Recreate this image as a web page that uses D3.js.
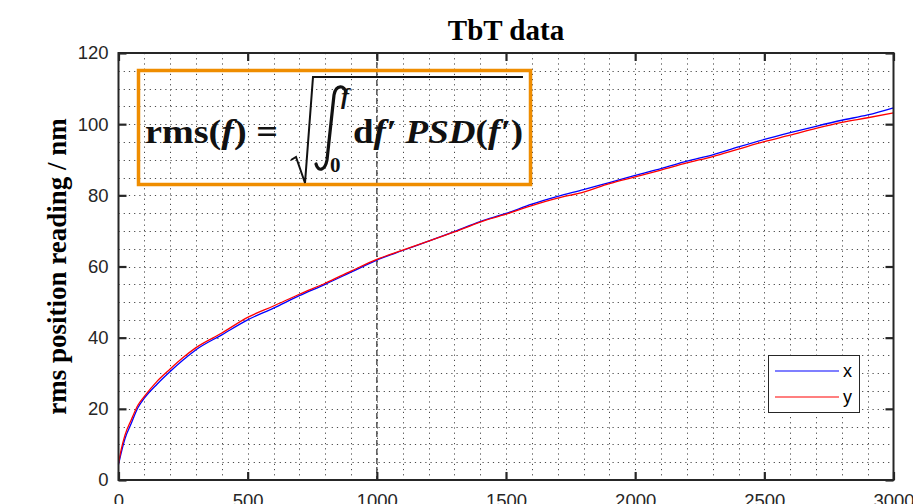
<html lang="en">
<head>
<script src="https://d3js.org/d3.v7.min.js" charset="utf-8"></script>
<style>
  body { margin: 0; background: #fff; }
  .tick text { font-family: 'Liberation Sans', Arial, sans-serif; font-size: 18.5px; fill: #262626; }
</style>
</head>
<body>
<script>
// rms of the position reading, integrated up to f (Hz)
var freq = [0, 10, 25, 50, 75, 100, 150, 200, 250, 300, 400, 500, 600, 700, 800, 900, 1000,
            1100, 1200, 1300, 1400, 1500, 1600, 1700, 1800, 1900, 2000, 2100, 2200, 2300,
            2400, 2500, 2600, 2700, 2800, 2900, 3000];
var rmsX = [4.3, 7.5, 11.6, 16.0, 20.3, 23.0, 27.0, 30.5, 33.7, 36.6, 40.8, 45.0, 48.3, 51.8, 55.0, 58.4, 61.8,
            64.5, 67.1, 69.8, 72.6, 74.9, 77.5, 79.7, 81.6, 83.6, 85.6, 87.5, 89.6, 91.4,
            93.6, 95.7, 97.6, 99.4, 101.1, 102.6, 104.6];
var rmsY = [4.6, 8.4, 12.6, 17.0, 21.0, 23.5, 27.8, 31.2, 34.4, 37.2, 41.3, 45.7, 48.9, 52.2, 55.3, 58.7, 62.0,
            64.6, 67.1, 69.7, 72.5, 74.7, 77.1, 79.2, 80.9, 83.3, 85.2, 87.1, 89.1, 90.9,
            93.0, 95.1, 96.9, 98.8, 100.5, 101.8, 103.2];
var seriesNames = ["x", "y"];
var seriesColors = ["#0000ff", "#ff0000"];
var xTicks = [0, 500, 1000, 1500, 2000, 2500, 3000];
var yTicks = [0, 20, 40, 60, 80, 100, 120];
var markerFreq = [1000];

var width = 913, height = 504;
var svg = d3.select("body").append("svg")
    .attr("width", width).attr("height", height);

var x = d3.scaleLinear().domain([0, 3000]).range([118.5, 893.5]);
var y = d3.scaleLinear().domain([0, 120]).range([480, 53]);

// minor grid (dotted)
var grid = svg.append("g").attr("stroke", "#4a4a4a").attr("stroke-width", 1)
    .attr("stroke-dasharray", "1.2,4");
grid.selectAll(".gx").data(x.ticks(30).filter(function(d) { return d > 0 && d < 3000; }))
  .enter().append("line")
    .attr("x1", function(d) { return Math.round(x(d)) + 0.5; })
    .attr("x2", function(d) { return Math.round(x(d)) + 0.5; })
    .attr("y1", y(120)).attr("y2", y(0));
grid.selectAll(".gy").data(y.ticks(24).filter(function(d) { return d > 0 && d < 120; }))
  .enter().append("line")
    .attr("y1", function(d) { return Math.round(y(d)) + 0.5; })
    .attr("y2", function(d) { return Math.round(y(d)) + 0.5; })
    .attr("x1", x(0)).attr("x2", x(3000));

// dashed marker at 1 kHz
svg.selectAll(".marker").data(markerFreq).enter().append("line")
    .attr("x1", function(d) { return x(d); }).attr("x2", function(d) { return x(d); })
    .attr("y1", y(120)).attr("y2", y(0))
    .attr("stroke", "#555").attr("stroke-width", 1.5).attr("stroke-dasharray", "6,3");

// formula box
var fbox = svg.append("g")
    .attr("font-family", "'Liberation Serif', 'Times New Roman', serif")
    .attr("font-weight", "bold").attr("fill", "#111");
fbox.append("rect").attr("x", 138.5).attr("y", 70.5).attr("width", 392).attr("height", 114)
    .attr("fill", "none").attr("stroke", "#ef8d00").attr("stroke-width", 3.5);

var lhs = fbox.append("text").attr("x", 145).attr("y", 143).attr("font-size", 34)
    .attr("textLength", 133).attr("lengthAdjust", "spacingAndGlyphs");
lhs.append("tspan").text("rms(");
lhs.append("tspan").attr("font-style", "italic").text("f");
lhs.append("tspan").text(") =");

var rhs = fbox.append("text").attr("x", 353).attr("y", 143).attr("font-size", 34)
    .attr("textLength", 170).attr("lengthAdjust", "spacingAndGlyphs");
rhs.append("tspan").text("d");
rhs.append("tspan").attr("font-style", "italic").text("f\u2032 PSD");
rhs.append("tspan").text("(");
rhs.append("tspan").attr("font-style", "italic").text("f\u2032");
rhs.append("tspan").text(")");

fbox.append("text").attr("x", 341).attr("y", 104)
    .attr("font-style", "italic").attr("font-size", 24).text("f");
fbox.append("text").attr("x", 330).attr("y", 172)
    .attr("font-size", 21).text("0");
// integral sign
fbox.append("path")
    .attr("d", "M346,93 C345,85 336,84 334,95 L327,160 C325,171 318,172 316,164")
    .attr("fill", "none").attr("stroke", "#111").attr("stroke-width", 3.2).attr("stroke-linecap", "round");
// radical
fbox.append("path")
    .attr("d", "M291,160 L296,157 L305,183 L313,77 L523,77")
    .attr("fill", "none").attr("stroke", "#111").attr("stroke-width", 2).attr("stroke-linejoin", "miter");

// curves
var line = d3.line()
    .curve(d3.curveMonotoneX)
    .x(function(d) { return x(d[0]); })
    .y(function(d) { return y(d[1]); });
var series = [rmsX, rmsY].map(function(vals) {
  return freq.map(function(f, i) { return [f, vals[i]]; });
});
svg.selectAll(".curve").data(series).enter().append("path")
    .attr("d", line)
    .attr("fill", "none")
    .attr("stroke", function(d, i) { return seriesColors[i]; })
    .attr("stroke-width", 1.3);

// axes with inward ticks
svg.append("g").attr("transform", "translate(0," + y(0) + ")")
    .call(d3.axisBottom(x).tickValues(xTicks).tickFormat(d3.format("d"))
      .tickSizeInner(-8).tickSizeOuter(0).tickPadding(14));
svg.append("g").attr("transform", "translate(" + x(0) + ",0)")
    .call(d3.axisLeft(y).tickValues(yTicks).tickSizeInner(-8).tickSizeOuter(0).tickPadding(10));
svg.append("g").attr("transform", "translate(0," + y(120) + ")")
    .call(d3.axisTop(x).tickValues(xTicks).tickSizeInner(-8).tickSizeOuter(0).tickFormat(""));
svg.append("g").attr("transform", "translate(" + x(3000) + ",0)")
    .call(d3.axisRight(y).tickValues(yTicks).tickSizeInner(-8).tickSizeOuter(0).tickFormat(""));
svg.selectAll(".domain").remove();
svg.selectAll(".tick line").attr("stroke", "#262626").attr("stroke-width", 2.2);

svg.append("rect")
    .attr("x", x(0)).attr("y", y(120))
    .attr("width", x(3000) - x(0)).attr("height", y(0) - y(120))
    .attr("fill", "none").attr("stroke", "#262626").attr("stroke-width", 2);

// title and y label
svg.append("text").attr("x", (x(0) + x(3000)) / 2).attr("y", 40)
    .attr("text-anchor", "middle")
    .attr("font-family", "'Liberation Serif', 'Times New Roman', serif")
    .attr("font-weight", "bold").attr("font-size", 29).attr("fill", "#000")
    .text("TbT data");
svg.append("text")
    .attr("transform", "translate(66," + (y(0) + y(120)) / 2 + ") rotate(-90)")
    .attr("text-anchor", "middle")
    .attr("font-family", "'Liberation Serif', 'Times New Roman', serif")
    .attr("font-weight", "bold").attr("font-size", 27).attr("fill", "#000")
    .text("rms position reading / nm");

// legend
var lg = svg.append("g");
lg.append("rect").attr("x", 768.5).attr("y", 355.5).attr("width", 91).attr("height", 57)
    .attr("fill", "#fff").attr("stroke", "#262626").attr("stroke-width", 1);
var items = lg.selectAll(".li").data(seriesNames).enter().append("g")
    .attr("transform", function(d, i) { return "translate(0," + (371 + i * 26) + ")"; });
items.append("line").attr("x1", 775).attr("x2", 839).attr("y1", 0).attr("y2", 0)
    .attr("stroke", function(d, i) { return seriesColors[i]; }).attr("stroke-width", 1.2);
items.append("text").attr("x", 843).attr("y", 6)
    .attr("font-family", "'Liberation Sans', Arial, sans-serif").attr("font-size", 18)
    .attr("fill", "#000")
    .text(function(d) { return d; });
</script>
</body>
</html>
